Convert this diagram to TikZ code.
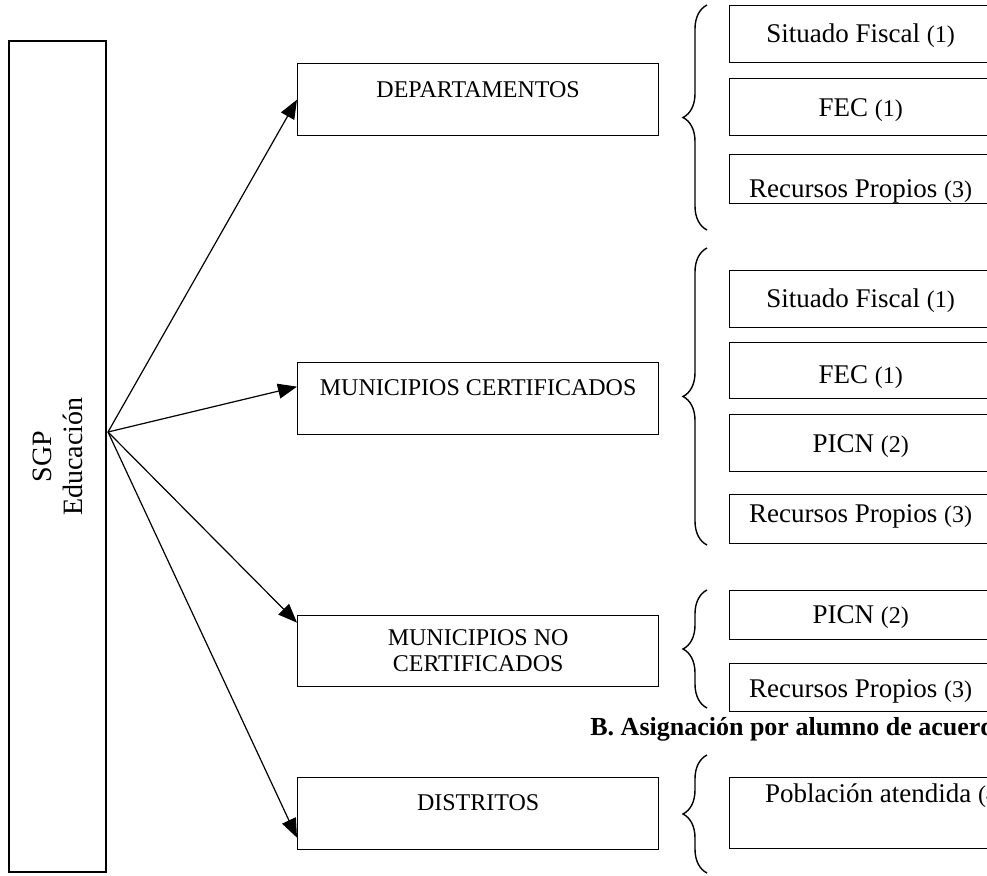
\documentclass[tikz,border=0pt]{standalone}
\usepackage{fontspec}
\setmainfont{Liberation Serif}
\usetikzlibrary{arrows.meta,decorations.pathreplacing}

\newcommand{\nro}[1]{{\fontsize{12}{14}\selectfont(#1)}}

\tikzset{
  caja/.style={draw, line width=0.65pt, anchor=north west, inner ysep=0pt,
    minimum width=180.5pt, font=\fontsize{12}{13}\selectfont},
  fuente/.style={draw, line width=0.65pt, anchor=north west, inner ysep=0pt,
    minimum width=131pt, font=\fontsize{13.5}{16}\selectfont},
  llave/.style={decorate, line width=0.7pt, decoration={brace, amplitude=12pt}},
  flecha/.style={line width=0.6pt, -{Triangle[length=9.5pt,width=7.5pt]}}
}

\begin{document}
\begin{tikzpicture}[x=0.5pt,y=-0.5pt]
  \useasboundingbox (0,0) rectangle (987,875);
  \clip (0,0) rectangle (987,875);

  \node[draw, line width=0.65pt, rotate=90, minimum width=415.5pt, minimum height=48.5pt,
        align=center, font=\fontsize{14}{15.5}\selectfont] (sgp) at (57.5,456.5) {SGP\\Educación};
  \coordinate (o) at (108,432);

  \node[caja, text height=17pt, text depth=19pt]     (dep) at (297,63)  {DEPARTAMENTOS};
  \node[caja, text height=16.5pt, text depth=19.5pt] (mc)  at (297,362) {MUNICIPIOS CERTIFICADOS};
  \node[caja, minimum height=35.5pt, align=center]   (mnc) at (297,615) {MUNICIPIOS NO\\CERTIFICADOS};
  \node[caja, text height=16.5pt, text depth=19.5pt] (dis) at (297,777) {DISTRITOS};

  % departamentos
  \node[fuente, text height=18.5pt, text depth=10pt] (sf1)  at (729,5)   {Situado Fiscal \nro{1}};
  \node[fuente, text height=19pt, text depth=9.5pt]  (fec1) at (729,78)  {FEC \nro{1}};
  \node[fuente, text height=21.5pt, text depth=3pt]  (rp1)  at (729,154) {Recursos Propios \nro{3}};
  \draw[llave] (707,230) -- (707,5);

  % municipios certificados
  \node[fuente, text height=18.5pt, text depth=10pt] (sf2)   at (729,270) {Situado Fiscal \nro{1}};
  \node[fuente, text height=20.5pt, text depth=7.5pt] (fec2) at (729,342) {FEC \nro{1}};
  \node[fuente, text height=19pt, text depth=9.5pt]  (picn2) at (729,414) {PICN \nro{2}};
  \node[fuente, text height=14pt, text depth=10.5pt] (rp2)   at (729,494) {Recursos Propios \nro{3}};
  \draw[llave] (707,545) -- (707,248);

  % municipios no certificados
  \node[fuente, text height=16.5pt, text depth=8pt] (picn3) at (729,590) {PICN \nro{2}};
  \node[fuente, text height=17pt, text depth=7pt]   (rp3)   at (729,663) {Recursos Propios \nro{3}};
  \draw[llave] (707,708) -- (707,590);

  \node[anchor=base west, inner sep=0pt, font=\fontsize{13}{15}\selectfont\bfseries] (tit) at (590,735)
    {B. Asignación por alumno de acuerdo};

  % distritos
  \node[fuente, minimum width=156pt, text height=12.5pt, text depth=23pt] (pob) at (729,777) {Población atendida \nro{4}};
  \draw[llave] (707,873) -- (707,755);

  \draw[flecha] (o) -- (dep.west);
  \draw[flecha] (o) -- ([yshift=6pt]mc.west);
  \draw[flecha] (o) -- ([yshift=14.25pt]mnc.west);
  \draw[flecha] (o) -- ([yshift=-12pt]dis.west);
\end{tikzpicture}
\end{document}
